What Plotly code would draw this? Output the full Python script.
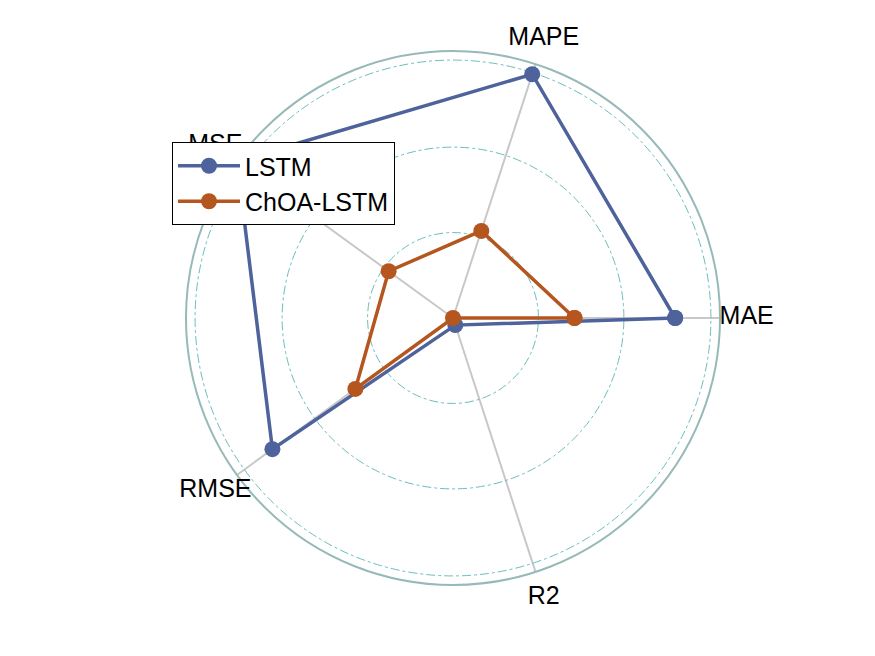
import plotly.graph_objects as go

categories = ["MAE", "MAPE", "MSE", "RMSE", "R2"]
angles = [0, 72, 144, 216, 288]
lstm = [0.832, 0.960, 1.0, 0.836, 0.028]
choa_lstm = [0.455, 0.343, 0.298, 0.452, 0.0]
ring_levels = [0.32, 0.64, 0.966]
label_radius = 1.1

blue = "#4E629B"
orange = "#B5561F"
font_family = "Liberation Sans, Arial, sans-serif"

fig = go.Figure()

def closed(v):
    return list(v) + [v[0]]

fig.add_trace(go.Scatterpolar(
    r=closed(lstm), theta=closed(angles), mode="lines+markers", name="LSTM",
    line=dict(color=blue, width=3.5), marker=dict(color=blue, size=16),
    cliponaxis=False, subplot="polar",
))
fig.add_trace(go.Scatterpolar(
    r=closed(choa_lstm), theta=closed(angles), mode="lines+markers", name="ChOA-LSTM",
    line=dict(color=orange, width=3.5), marker=dict(color=orange, size=16),
    cliponaxis=False, subplot="polar",
))
fig.add_trace(go.Scatterpolar(
    r=[label_radius] * len(categories), theta=angles, mode="text", text=categories,
    textposition="middle center", textfont=dict(size=25, color="black", family=font_family),
    showlegend=False, hoverinfo="skip", cliponaxis=False, subplot="polar2",
))

# page body has an 8px margin, so the figure origin sits at (8, 8) in the window
off = 8
cx, cy, R = 453 - off, 318 - off, 267
R2 = R * label_radius
W, H = 875, 656

def dom(rad):
    return dict(x=[(cx - rad) / W, (cx + rad) / W], y=[(H - cy - rad) / H, (H - cy + rad) / H])

hidden_axis = dict(showticklabels=False, ticks="", showline=False, showgrid=False)

fig.update_layout(
    width=W, height=H,
    margin=dict(l=0, r=0, t=0, b=0),
    paper_bgcolor="white",
    font=dict(family=font_family, size=25, color="black"),
    polar=dict(
        domain=dom(R),
        bgcolor="white",
        radialaxis=dict(range=[0, 1.0], tickvals=ring_levels, showticklabels=False, ticks="",
                        showline=False, gridcolor="#6DBDBD", griddash="dashdot", gridwidth=1),
        angularaxis=dict(direction="counterclockwise", rotation=0, tickvals=angles,
                         showticklabels=False, ticks="", gridcolor="#C8C8C8", gridwidth=2,
                         showline=True, linecolor="#97B9B9", linewidth=2),
    ),
    polar2=dict(
        domain=dom(R2),
        bgcolor="rgba(0,0,0,0)",
        radialaxis=dict(range=[0, label_radius], **hidden_axis),
        angularaxis=dict(direction="counterclockwise", rotation=0, **hidden_axis),
    ),
    legend=dict(x=(172 - off) / W, y=1 - (142 - off) / H, xanchor="left", yanchor="top",
                bordercolor="black", borderwidth=1, bgcolor="white",
                font=dict(size=25, family=font_family), tracegroupgap=0, itemwidth=62),
    showlegend=True,
)

fig.write_html("out.html")
